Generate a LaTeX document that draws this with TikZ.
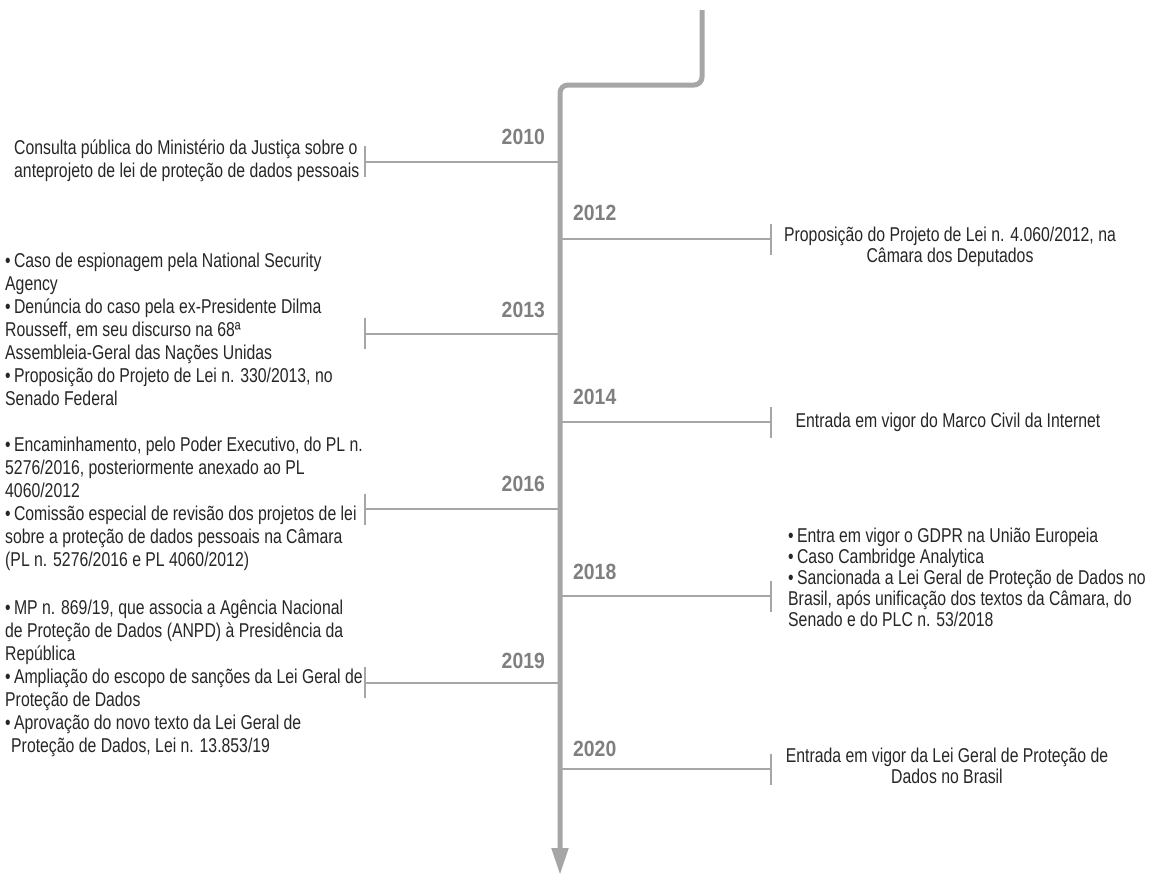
\documentclass[tikz,border=0pt]{standalone}
\usepackage{fontspec}
\setmainfont{Liberation Sans}[FakeStretch=0.79]
\newfontfamily\yearfont{Liberation Sans}[FakeStretch=0.88]
\usetikzlibrary{arrows.meta, positioning}
\definecolor{lineGray}{HTML}{A6A6A6}
\definecolor{yearGray}{HTML}{7F7F7F}
\definecolor{textDark}{HTML}{262626}

\begin{document}
\begin{tikzpicture}[
    x=1pt, y=-1pt,
    spine/.style={line width=5pt, draw=lineGray, rounded corners=8pt,
                  -{Triangle[length=27pt, width=16pt]}},
    branch/.style={line width=2pt, draw=lineGray, -{Bar[width=31pt]}},
    yearlbl/.style={font=\yearfont\fontsize{22pt}{24pt}\selectfont\bfseries,
                    text=yearGray, inner sep=0pt},
    leftnote/.style={font=\fontsize{20pt}{23pt}\selectfont, text=textDark,
                     align=left, inner sep=0pt, anchor=west},
    rightnote/.style={font=\fontsize{20pt}{21pt}\selectfont, text=textDark,
                      inner sep=0pt},
  ]
    \useasboundingbox (0,0) rectangle (1153,876);

    \coordinate (top) at (702,10);
    \coordinate (bendR) at (702,85);
    \coordinate (bendL) at (560,85);
    \coordinate (tip) at (560,875);
    \draw[spine] (top) -- (bendR) -- (bendL) -- (tip);

    \coordinate (c10) at (560,161.7);
    \coordinate (c12) at (560,239.3);
    \coordinate (c13) at (560,333.7);
    \coordinate (c14) at (560,422.3);
    \coordinate (c16) at (560,509.3);
    \coordinate (c18) at (560,596);
    \coordinate (c19) at (560,682.7);
    \coordinate (c20) at (560,769.3);

    \coordinate (k10) at (364.3,161.7);
    \coordinate (k12) at (772.3,239.3);
    \coordinate (k13) at (364.3,333.7);
    \coordinate (k14) at (772.3,422.3);
    \coordinate (k16) at (364.3,509.3);
    \coordinate (k18) at (772.3,596);
    \coordinate (k19) at (364.3,682.7);
    \coordinate (k20) at (772.3,769.3);

    \draw[branch] (c10) -- (k10);
    \draw[branch] (c12) -- (k12);
    \draw[branch] (c13) -- (k13);
    \draw[branch] (c14) -- (k14);
    \draw[branch] (c16) -- (k16);
    \draw[branch] (c18) -- (k18);
    \draw[branch] (c19) -- (k19);
    \draw[branch] (c20) -- (k20);

    \node[yearlbl, anchor=base east] (y10) at (545,144) {2010};
    \node[yearlbl, anchor=base west] (y12) at (573,220) {2012};
    \node[yearlbl, anchor=base east] (y13) at (545,317.7) {2013};
    \node[yearlbl, anchor=base west] (y14) at (573,404) {2014};
    \node[yearlbl, anchor=base east] (y16) at (545,491.7) {2016};
    \node[yearlbl, anchor=base west] (y18) at (573,579.3) {2018};
    \node[yearlbl, anchor=base east] (y19) at (545,668) {2019};
    \node[yearlbl, anchor=base west] (y20) at (573,756) {2020};

    \node[leftnote] (t10) at (14,161) {Consulta pública do Ministério da Justiça sobre o\\
      anteprojeto de lei de proteção de dados pessoais};
    \node[leftnote] (t13) at (5,329.5) {•\,Caso de espionagem pela National Security\\
      Agency\\
      •\,Denúncia do caso pela ex-Presidente Dilma\\
      Rousseff, em seu discurso na 68ª\\
      Assembleia-Geral das Nações Unidas\\
      •\,Proposição do Projeto de Lei n. 330/2013, no\\
      Senado Federal};
    \node[leftnote] (t16) at (5,504) {•\,Encaminhamento, pelo Poder Executivo, do PL n.\\
      5276/2016, posteriormente anexado ao PL\\
      4060/2012\\
      •\,Comissão especial de revisão dos projetos de lei\\
      sobre a proteção de dados pessoais na Câmara\\
      (PL n. 5276/2016 e PL 4060/2012)};
    \node[leftnote] (t19) at (5,678.5) {•\,MP n. 869/19, que associa a Agência Nacional\\
      de Proteção de Dados (ANPD) à Presidência da\\
      República\\
      •\,Ampliação do escopo de sanções da Lei Geral de\\
      Proteção de Dados\\
      •\,Aprovação do novo texto da Lei Geral de\\
      \hspace*{6pt}Proteção de Dados, Lei n. 13.853/19};

    \node[rightnote, align=center] (t12) at (950,246.5) {Proposição do Projeto de Lei n. 4.060/2012, na\\
      Câmara dos Deputados};
    \node[rightnote] (t14) at (948,422.8) {Entrada em vigor do Marco Civil da Internet};
    \node[rightnote, align=left, anchor=west] (t18) at (788,577.7) {•\,Entra em vigor o GDPR na União Europeia\\
      •\,Caso Cambridge Analytica\\
      •\,Sancionada a Lei Geral de Proteção de Dados no\\
      Brasil, após unificação dos textos da Câmara, do\\
      Senado e do PLC n. 53/2018};
    \node[rightnote, align=center] (t20) at (947,766) {Entrada em vigor da Lei Geral de Proteção de\\
      Dados no Brasil};
  \end{tikzpicture}
\end{document}
